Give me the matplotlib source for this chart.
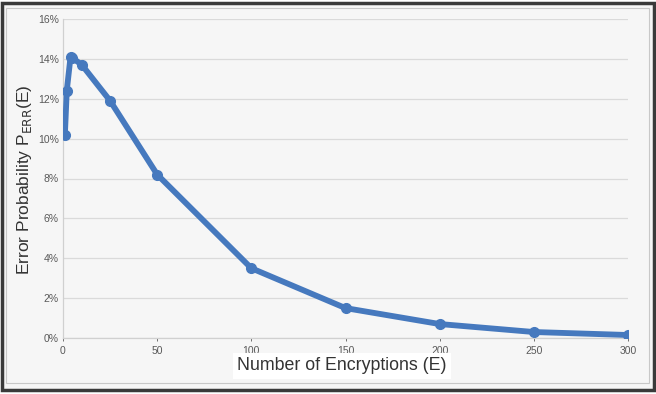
import matplotlib
matplotlib.use('Agg')
import matplotlib.pyplot as plt
from matplotlib.patches import Rectangle
from matplotlib.ticker import PercentFormatter

plt.rcParams['font.family'] = ['Liberation Sans', 'DejaVu Sans']

# data
encryptions = [1, 2, 4, 5, 10, 25, 50, 100, 150, 200, 250, 300]
error_prob = [10.2, 12.4, 14.1, 14.05, 13.7, 11.9, 8.2, 3.5, 1.5, 0.7, 0.3, 0.15]

x_ticks = [0, 50, 100, 150, 200, 250, 300]
y_ticks = [0, 2, 4, 6, 8, 10, 12, 14, 16]

LINE_COLOR = '#4679be'
BG = '#f6f6f6'
W, H = 656, 394

fig = plt.figure(figsize=(W / 100, H / 100), dpi=100)
fig.patch.set_facecolor('white')

# outer frame + inner panel
fig.patches.append(Rectangle((1.5 / W, 1 - 390 / H), 652 / W, 387 / H,
                             transform=fig.transFigure, facecolor=BG,
                             edgecolor='#3a3a3a', linewidth=2.5, zorder=-2))
fig.patches.append(Rectangle((6 / W, 1 - 383 / H), 643 / W, 375 / H,
                             transform=fig.transFigure, facecolor='none',
                             edgecolor='#c8c8c8', linewidth=0.8, zorder=-1))

ax = fig.add_axes([63 / W, 56 / H, (628 - 63) / W, (338 - 19) / H])
ax.set_zorder(2)
ax.set_facecolor(BG)

ax.plot(encryptions, error_prob, color=LINE_COLOR, linewidth=4.2,
        marker='o', markersize=7, solid_joinstyle='round', zorder=3)

ax.set_xlim(0, 300)
ax.set_ylim(0, 16)
ax.set_xticks(x_ticks)
ax.set_yticks(y_ticks)
ax.yaxis.set_major_formatter(PercentFormatter(decimals=0))
ax.tick_params(axis='both', labelsize=7.5, colors='#595959', length=2, width=0.6)
ax.tick_params(axis='y', length=0, pad=3)

ax.grid(axis='y', color='#dadada', linewidth=0.9)
ax.set_axisbelow(True)
for side in ['top', 'right']:
    ax.spines[side].set_visible(False)
for side in ['left', 'bottom']:
    ax.spines[side].set_color('#d0d0d0')
    ax.spines[side].set_linewidth(0.9)

fig.text(342 / W, 1 - 366 / H, 'Number of Encryptions (E)',
         ha='center', va='center', fontsize=12.8, color='#333333', zorder=3,
         bbox=dict(facecolor='white', edgecolor='none', pad=3))
fig.text(25 / W, 1 - 180 / H, r'Error Probability P$_{\mathrm{ERR}}$(E)',
         ha='center', va='center', rotation=90, fontsize=12.5, color='#333333',
         zorder=3)

fig.savefig('out.png', dpi=100)
